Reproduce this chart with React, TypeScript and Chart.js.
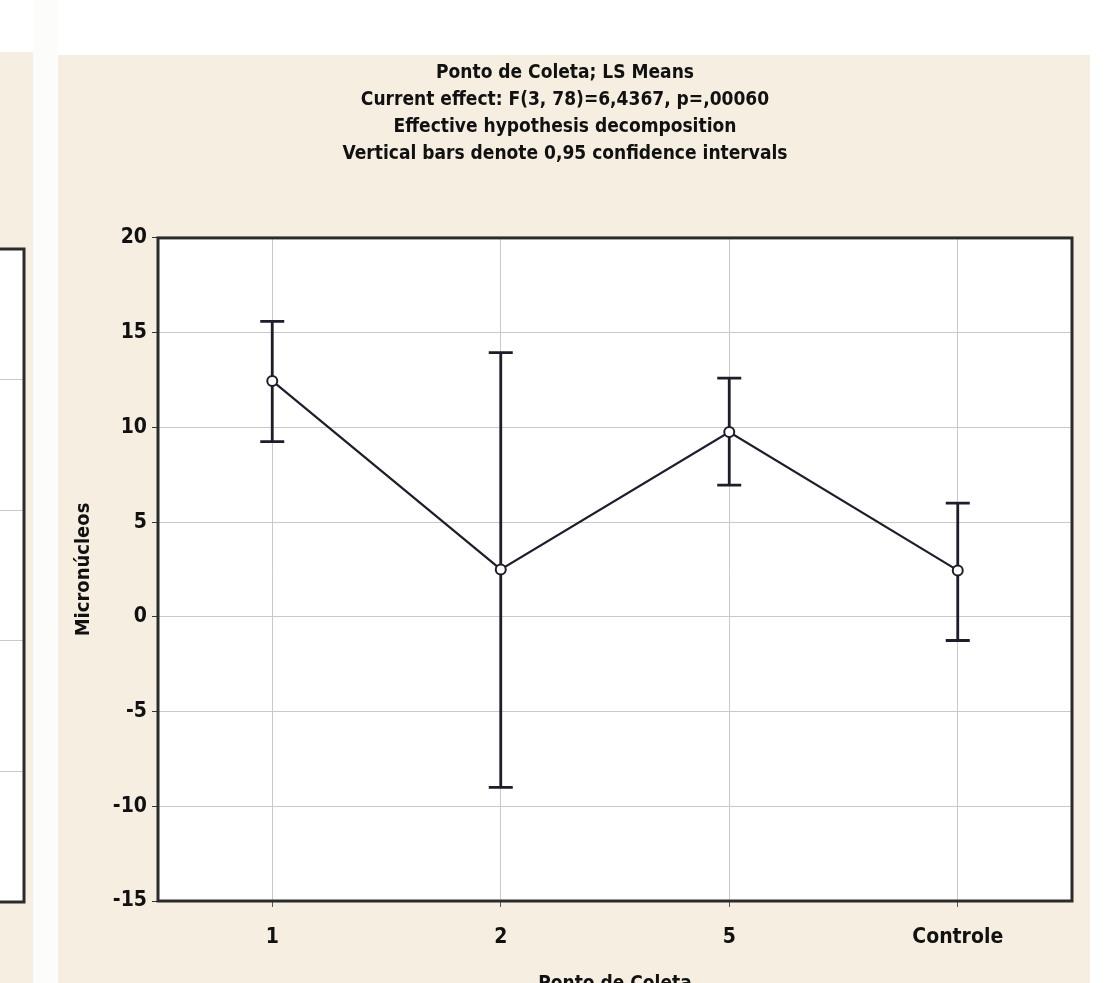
import React, { useEffect, useRef } from 'react';
import { Chart, registerables } from 'chart.js';

Chart.register(...registerables);

// ---- data ----
const categories = ['1', '2', '5', 'Controle'];
const means = [12.45, 2.5, 9.75, 2.45];
const ciLower = [9.25, -9.0, 6.95, -1.25];
const ciUpper = [15.6, 13.95, 12.6, 6.0];
const yMin = -15;
const yMax = 20;
const yStep = 5;
const titleLines = [
  'Ponto de Coleta; LS Means',
  'Current effect: F(3, 78)=6,4367, p=,00060',
  'Effective hypothesis decomposition',
  'Vertical bars denote 0,95 confidence intervals',
];
const xTitle = 'Ponto de Coleta';
const yTitle = 'Micronúcleos';
// neighbouring (cropped) panel on the left: only its grid is visible
const leftPanelMin = 0;
const leftPanelMax = 5;

const FONT = "'Liberation Sans Narrow', 'Arial Narrow', 'DejaVu Sans Condensed', 'Liberation Sans', sans-serif";
const BEIGE = '#f6efe1';
const INK = '#1d1d2b';
const GRID = '#c9c9c9';

const framePlugin = {
  id: 'frame',
  beforeDraw(chart: any) {
    const { ctx, chartArea: a } = chart;
    ctx.save();
    ctx.fillStyle = '#ffffff';
    ctx.fillRect(a.left, a.top, a.right - a.left, a.bottom - a.top);
    ctx.restore();
  },
  afterDraw(chart: any) {
    const { ctx, chartArea: a } = chart;
    ctx.save();
    ctx.strokeStyle = '#2b2b2b';
    ctx.lineWidth = 3;
    ctx.strokeRect(a.left, a.top, a.right - a.left, a.bottom - a.top);
    ctx.restore();
  },
};

const errorBarPlugin = {
  id: 'errorBars',
  beforeDatasetsDraw(chart: any) {
    const { ctx } = chart;
    const xs = chart.scales.x;
    const ys = chart.scales.y;
    ctx.save();
    ctx.strokeStyle = INK;
    ctx.lineWidth = 2.8;
    const cap = 12;
    categories.forEach((_, i) => {
      const x = xs.getPixelForValue(i);
      const yl = ys.getPixelForValue(ciLower[i]);
      const yu = ys.getPixelForValue(ciUpper[i]);
      ctx.beginPath();
      ctx.moveTo(x, yl);
      ctx.lineTo(x, yu);
      ctx.moveTo(x - cap, yl);
      ctx.lineTo(x + cap, yl);
      ctx.moveTo(x - cap, yu);
      ctx.lineTo(x + cap, yu);
      ctx.stroke();
    });
    ctx.restore();
  },
};

function MainChart() {
  const ref = useRef<HTMLCanvasElement>(null);
  useEffect(() => {
    const chart = new Chart(ref.current!, {
      type: 'line',
      data: {
        labels: categories,
        datasets: [
          {
            data: means,
            borderColor: INK,
            borderWidth: 2.2,
            pointRadius: 5,
            pointBorderWidth: 2,
            pointBackgroundColor: '#ffffff',
            pointBorderColor: INK,
            tension: 0,
          },
        ],
      },
      options: {
        responsive: false,
        animation: false,
        layout: { padding: { left: 0, right: 18, top: 0, bottom: 0 } },
        plugins: {
          legend: { display: false },
          tooltip: { enabled: false },
          title: {
            display: true,
            text: titleLines,
            color: '#111',
            font: { family: FONT, size: 19, weight: 'bold', lineHeight: 1.42 },
            padding: { top: 5, bottom: 70 },
          },
        },
        scales: {
          x: {
            type: 'category',
            offset: true,
            grid: { color: GRID, offset: false, drawTicks: true, tickLength: 6, tickColor: '#555' },
            border: { display: false },
            ticks: { color: '#111', padding: 18, font: { family: FONT, size: 21, weight: 'bold' } },
            title: {
              display: true,
              text: xTitle,
              color: '#111',
              padding: { top: 0, bottom: 20 },
              font: { family: FONT, size: 19, weight: 'bold' },
            },
            afterFit(scale: any) {
              scale.height = 114;
            },
          },
          y: {
            min: yMin,
            max: yMax,
            ticks: { stepSize: yStep, color: '#111', padding: 5, font: { family: FONT, size: 21, weight: 'bold' } },
            grid: { color: GRID, drawTicks: true, tickLength: 6, tickColor: '#333' },
            border: { display: false },
            title: {
              display: true,
              text: yTitle,
              color: '#111',
              padding: { top: 14, bottom: 0 },
              font: { family: FONT, size: 20, weight: 'bold' },
            },
            afterFit(scale: any) {
              scale.width = 100;
            },
          },
        },
      },
      plugins: [framePlugin, errorBarPlugin],
    } as any);
    return () => chart.destroy();
  }, []);
  return (
    <canvas
      ref={ref}
      width={1032}
      height={960}
      style={{ position: 'absolute', left: 58, top: 55, width: 1032, height: 960, background: BEIGE }}
    />
  );
}

function LeftPanel() {
  const ref = useRef<HTMLCanvasElement>(null);
  useEffect(() => {
    const chart = new Chart(ref.current!, {
      type: 'scatter',
      data: { datasets: [] },
      options: {
        responsive: false,
        animation: false,
        layout: { padding: { left: 0, right: 9, top: 197, bottom: 81 } },
        plugins: { legend: { display: false }, tooltip: { enabled: false } },
        scales: {
          x: { display: false, min: 0, max: 1 },
          y: {
            position: 'right',
            min: leftPanelMin,
            max: leftPanelMax,
            ticks: { display: false, stepSize: 1 },
            grid: { color: GRID, drawTicks: false },
            border: { display: false },
          },
        },
      },
      plugins: [framePlugin],
    } as any);
    return () => chart.destroy();
  }, []);
  return (
    <canvas
      ref={ref}
      width={133}
      height={931}
      style={{ position: 'absolute', left: -100, top: 52, width: 133, height: 931, background: BEIGE }}
    />
  );
}

export default function App() {
  return (
    <div
      style={{
        position: 'fixed',
        left: 0,
        top: 0,
        width: 1106,
        height: 983,
        overflow: 'hidden',
        background: '#ffffff',
      }}
    >
      <LeftPanel />
      <div style={{ position: 'absolute', left: 33, top: 0, width: 25, height: 983, background: '#fcfcfb' }} />
      <MainChart />
    </div>
  );
}
